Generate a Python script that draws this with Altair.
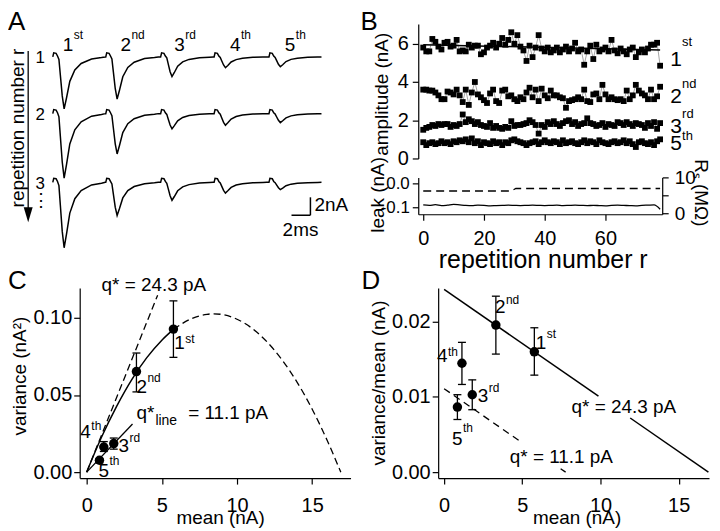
import altair as alt
import pandas as pd

FONT = "Liberation Sans"
K = "#000000"

# ---------------- Panel A : example traces ----------------
PULSE_T = [0.0, 5.6, 11.4, 17.05, 22.85]          # ms, pulse onsets
ROW_BASE = [0.0, -6.33, -14.0]                    # nA, vertical offset of each repetition
ROW_NAMES = ["1", "2", "3"]
AMPS = [[5.8, 4.7, 2.2, 1.2, 1.1],                # EPSC depth (nA) per repetition / pulse
        [7.2, 4.5, 1.7, 1.3, 1.0],
        [7.3, 3.7, 2.0, 1.2, 0.8]]
TPL_T = [0.0, 0.1, 0.35, 0.5, 0.65, 0.8, 1.0, 1.2, 1.45, 1.8, 2.33, 3.0, 4.1, 5.15, 5.55]
TPL_ART = [0.0, 0.45, 0.4, 0.1, 0.0, 0, 0, 0, 0, 0, 0, 0, 0, 0, 0]
TPL_SHAPE = [0, 0, 0, 0, 0.05, 0.35, 0.75, 1.0, 0.79, 0.47, 0.25, 0.126, 0.04, 0.013, 0.0]
COL_T = [1.05, 7.16, 12.84, 18.74, 24.53]
ORD_MAIN = ["1", "2", "3", "4", "5"]
ORD_SUP = ["st", "nd", "rd", "th", "th"]

# ---------------- Panel B : amplitudes vs repetition ----------------
REP = list(range(79))
AMP_1ST = [5.8, 5.6, 5.6, 6.25, 6.1, 5.85, 5.7, 6.05, 6.1, 5.85, 5.9, 6.2, 5.6, 5.65, 5.6, 5.95,
           5.8, 5.9, 5.9, 5.45, 5.55, 5.8, 5.9, 6.05, 5.8, 6.0, 6.3, 5.95, 6.2, 6.6, 6.0, 6.45,
           5.85, 5.65, 5.1, 5.9, 5.3, 5.8, 6.45, 5.75, 5.6, 5.8, 5.55, 5.65, 5.8, 5.55, 5.7, 5.85,
           5.6, 5.75, 6.05, 5.6, 5.7, 4.9, 5.6, 5.9, 5.2, 5.95, 5.6, 5.7, 5.8, 5.6, 6.2, 5.65,
           5.5, 5.75, 5.6, 5.45, 5.7, 5.8, 5.3, 5.55, 5.7, 5.55, 5.75, 5.95, 5.95, 6.05, 4.85]
AMP_2ND = [3.6, 3.6, 3.55, 3.55, 3.45, 3.3, 3.1, 3.1, 3.5, 3.45, 3.35, 3.6, 3.3, 2.95, 3.6, 2.8,
           3.45, 4.0, 3.35, 3.2, 3.05, 2.9, 3.4, 3.6, 3.0, 2.9, 3.55, 3.6, 3.25, 3.3, 3.1, 3.0,
           3.2, 3.1, 3.45, 3.7, 3.2, 3.6, 3.0, 3.65, 3.3, 3.15, 3.55, 3.3, 3.3, 3.2, 3.15, 2.65,
           3.0, 3.05, 3.1, 3.2, 3.1, 3.6, 3.0, 2.95, 3.35, 3.4, 3.1, 3.85, 3.35, 3.1, 3.2, 3.1,
           3.05, 3.1, 3.0, 3.55, 3.1, 3.3, 3.85, 3.55, 3.4, 3.3, 3.1, 3.6, 3.1, 3.25, 3.75]
AMP_3RD = [1.5, 1.6, 1.65, 1.75, 1.7, 1.8, 1.75, 1.8, 1.8, 1.65, 1.75, 1.7, 1.8, 2.3, 1.9, 2.05,
           1.95, 1.8, 1.9, 1.75, 1.7, 1.65, 1.85, 1.6, 1.7, 1.6, 1.55, 1.65, 1.6, 1.95, 1.7, 1.75,
           1.75, 1.8, 1.85, 2.0, 1.9, 1.75, 1.3, 1.75, 1.65, 1.9, 1.8, 1.95, 1.8, 1.7, 1.85, 1.95,
           2.0, 1.8, 1.9, 1.7, 1.8, 1.85, 2.1, 1.85, 1.8, 1.7, 1.75, 1.85, 1.65, 1.8, 1.75, 1.7,
           1.9, 1.85, 1.75, 1.9, 1.8, 1.7, 1.85, 1.8, 1.75, 1.6, 1.85, 1.7, 1.9, 1.55, 1.85]
AMP_5TH = [0.85, 0.7, 0.8, 0.85, 0.75, 0.8, 0.9, 0.8, 0.85, 0.75, 0.9, 0.85, 0.95, 0.9, 1.0, 0.85,
           1.05, 0.8, 0.9, 0.7, 0.85, 0.8, 0.75, 0.9, 0.8, 0.85, 0.7, 0.85, 0.8, 0.95, 1.0, 0.9,
           0.85, 0.8, 0.7, 0.8, 0.85, 0.9, 0.75, 0.85, 0.95, 0.85, 0.8, 0.9, 0.85, 0.75, 0.95, 0.8,
           0.85, 0.9, 0.8, 0.75, 0.85, 0.95, 0.8, 0.9, 0.85, 0.75, 0.95, 0.85, 0.8, 0.75, 0.85, 0.9,
           0.8, 0.85, 0.95, 0.8, 0.9, 0.75, 0.6, 0.85, 0.9, 0.8, 0.75, 0.85, 0.7, 0.9, 1.0]
FIT_R = [0, 78]
FIT_A = [5.95, 5.67]
B_LAB_MAIN = ["1", "2", "3", "5"]
B_LAB_SUP = ["st", "nd", "rd", "th"]
B_LAB_A = [4.84, 2.92, 1.35, 0.42]
B_SUP_A = [5.88, 3.70, 2.13, 0.94]
LEAK_R = list(range(0, 80, 2))
LEAK = [-0.090, -0.092, -0.089, -0.093, -0.091, -0.088, -0.090, -0.092, -0.093, -0.091,
        -0.092, -0.094, -0.093, -0.092, -0.091, -0.092, -0.093, -0.092, -0.091, -0.092,
        -0.093, -0.092, -0.091, -0.093, -0.092, -0.091, -0.092, -0.093, -0.092, -0.093,
        -0.094, -0.092, -0.091, -0.092, -0.093, -0.094, -0.092, -0.091, -0.090, -0.108]
RS_R = [0, 29, 30.5, 78]
RS = [6.2, 6.2, 6.9, 6.9]

# ---------------- Panels C / D : variance-mean ----------------
MEAN = [5.77, 3.31, 1.80, 1.14, 0.85]
VAR = [0.0927, 0.0652, 0.0185, 0.0163, 0.0077]
VAR_LO = [0.0744, 0.052, 0.0149, 0.0134, 0.0060]
VAR_HI = [0.111, 0.0772, 0.0221, 0.0198, 0.0088]
VM = [0.0160, 0.01956, 0.01029, 0.01448, 0.00865]
VM_LO = [0.0129, 0.0157, 0.0083, 0.01166, 0.0070]
VM_HI = [0.0192, 0.0234, 0.01227, 0.01726, 0.0103]
C_LAB_M = [5.83, 3.31, 2.12, -0.42, 0.79]
C_LAB_V = [0.080, 0.051, 0.0131, 0.0219, -0.003]
C_SUP_V = [0.0839, 0.0581, 0.0196, 0.0271, 0.0047]
D_LAB_M = [5.86, 3.25, 2.15, -0.45, 0.51]
D_LAB_V = [0.01638, 0.0212, 0.00931, 0.01461, 0.00358]
D_SUP_V = [0.01784, 0.02239, 0.01063, 0.0154, 0.0053]
C_TAN_M = [0, 4.72]
C_TAN_V = [0, 0.1147]
C_FIT_M = [0, 1, 2, 3, 4, 5, 5.77]
C_FIT_V = [0, 0.0229, 0.0428, 0.0600, 0.0742, 0.0855, 0.0925]
C_EXT_M = [5.77, 7, 8, 8.45, 9, 10, 11, 12, 13, 14, 15, 16, 16.9]
C_EXT_V = [0.0925, 0.0996, 0.1023, 0.1026, 0.1022, 0.0991, 0.0932, 0.0844, 0.0727, 0.0582, 0.0408, 0.0205, 0.0]
C_QL_M = [0, 3.05]
C_QL_V = [0, 0.0312]
C_ANN_TXT = ["q* = 24.3 pA", "q*", "line", "= 11.1 pA"]
C_ANN_M = [0.99, 3.31, 4.57, 6.75]
C_ANN_V = [0.1174, 0.0346, 0.0303, 0.0346]
C_ANN_FS = [19, 19, 14, 19]
D_SOL_M = [0, 9.87, 11.9, 16.9]
D_SOL_V = [0.0243, 0.0101, 0.0072, 0.0]
D_DASH_M = [0, 5.0, 7.45, 7.77]
D_DASH_V = [0.0111, 0.0039, 0.00046, 0.0]
SEG = [0, 0, 1, 1]
D_ANN_TXT = ["q* = 24.3 pA", "q* = 11.1 pA"]
D_ANN_M = [8.15, 4.2]
D_ANN_V = [0.00786, 0.00123]


def letter(ch, x, y):
    return alt.Chart(pd.DataFrame({"l": [ch]})).mark_text(
        align="left", baseline="top", fontSize=26, font=FONT, color=K
    ).encode(x=alt.value(x), y=alt.value(y), text="l:N")


def ordinal_layers(df, X, Y, xf, yf, syf, fs, sfs, dx):
    main = alt.Chart(df).mark_text(align="left", baseline="alphabetic", fontSize=fs, font=FONT, color=K).encode(
        x=X(xf), y=Y(yf), text="main:N")
    sup = alt.Chart(df).mark_text(align="left", baseline="alphabetic", fontSize=sfs, font=FONT, color=K,
                                  dx=dx).encode(x=X(xf), y=Y(syf), text="sup:N")
    return [main, sup]


# ================= Panel A =================
def XA(f="t"):
    return alt.X(f + ":Q", scale=alt.Scale(domain=[-3.47, 29.05], nice=False, zero=False), axis=None)


def YA(f="v"):
    return alt.Y(f + ":Q", scale=alt.Scale(domain=[-22.56, 3.67], nice=False, zero=False), axis=None)


rows = []
for i, base in enumerate(ROW_BASE):
    n = 0
    for j, t0 in enumerate(PULSE_T):
        for k in range(len(TPL_T)):
            rows.append({"row": i, "i": n, "t": t0 + TPL_T[k],
                         "v": base + TPL_ART[k] - AMPS[i][j] * TPL_SHAPE[k]})
            n += 1
traces = pd.DataFrame(rows)

a_trace = alt.Chart(traces).mark_line(color=K, strokeWidth=1.5).encode(
    x=XA(), y=YA(), detail="row:N", order="i:Q")
a_cols = ordinal_layers(pd.DataFrame({"t": COL_T, "v": [0.67] * 5, "sv": [2.0] * 5,
                                      "main": ORD_MAIN, "sup": ORD_SUP}),
                        XA, YA, "t", "v", "sv", 19, 12, 11)
a_rowlab = alt.Chart(pd.DataFrame({"t": [-0.84] * 3, "v": [b - 0.15 for b in ROW_BASE], "s": ROW_NAMES})).mark_text(
    align="right", baseline="middle", fontSize=17, font=FONT, color=K).encode(x=XA(), y=YA(), text="s:N")
a_dots = alt.Chart(pd.DataFrame({"t": [-1.26], "v": [-16.1], "s": ["⋮"]})).mark_text(
    align="center", baseline="middle", fontSize=18, color=K).encode(x=XA(), y=YA(), text="s:N")
a_arrow = alt.Chart(pd.DataFrame({"t": [-2.6], "v": [0.67], "v2": [-17.1]})).mark_rule(
    color=K, strokeWidth=1.3).encode(x=XA(), y=YA(), y2=alt.Y2("v2:Q"))
a_head = alt.Chart(pd.DataFrame({"t": [-2.6], "v": [-17.61]})).mark_point(
    shape="M-0.6,-1L0.6,-1L0,1Z", size=225, filled=True, color=K, opacity=1, strokeWidth=0).encode(x=XA(), y=YA())
a_ylab = alt.Chart(pd.DataFrame({"t": [-3.63], "v": [-7.94], "s": ["repetition number r"]})).mark_text(
    angle=270, align="center", baseline="middle", fontSize=19, font=FONT, color=K).encode(x=XA(), y=YA(), text="s:N")
a_bar = alt.Chart(pd.DataFrame({"t": [27.23, 25.23], "t2": [27.23, 27.23],
                                "v": [-17.67, -17.67], "v2": [-15.67, -17.67]})).mark_rule(
    color=K, strokeWidth=1.5).encode(x=XA(), x2=alt.X2("t2:Q"), y=YA(), y2=alt.Y2("v2:Q"))
a_barlab1 = alt.Chart(pd.DataFrame({"t": [27.65], "v": [-16.56], "s": ["2nA"]})).mark_text(
    align="left", baseline="middle", fontSize=19, font=FONT, color=K).encode(x=XA(), y=YA(), text="s:N")
a_barlab2 = alt.Chart(pd.DataFrame({"t": [26.18], "v": [-19.33], "s": ["2ms"]})).mark_text(
    align="center", baseline="middle", fontSize=19, font=FONT, color=K).encode(x=XA(), y=YA(), text="s:N")

panel_a = alt.layer(a_trace, *a_cols, a_rowlab, a_dots, a_arrow, a_head, a_ylab, a_bar,
                    a_barlab1, a_barlab2, letter("A", -12, -15)).properties(width=309, height=236)

# ================= Panel B =================
RDOM = [-1.64, 78.69]


def XB(f="r"):
    return alt.X(f + ":Q", scale=alt.Scale(domain=RDOM, nice=False, zero=False), axis=None)


AX_B_Y = alt.Axis(values=[0, 2, 4, 6], title="amplitude (nA)", titleX=-31, titleY=70, titleAngle=270,
                  titleBaseline="alphabetic", labelPadding=4, labelFontSize=20)


def YB(f="amp"):
    return alt.Y(f + ":Q", scale=alt.Scale(domain=[0, 7.03], nice=False, zero=False), axis=AX_B_Y)


series = []
for name, arr in [("1st", AMP_1ST), ("2nd", AMP_2ND), ("3rd", AMP_3RD), ("5th", AMP_5TH)]:
    for r, a in zip(REP, arr):
        series.append({"s": name, "r": r, "amp": a})
bdf = pd.DataFrame(series)

b_lines = alt.Chart(bdf).mark_line(color="#a5a5a5", strokeWidth=1).encode(x=XB(), y=YB(), detail="s:N")
b_pts = alt.Chart(bdf).mark_square(color=K, size=34, opacity=1).encode(x=XB(), y=YB())
b_fit = alt.Chart(pd.DataFrame({"r": FIT_R, "amp": FIT_A})).mark_line(color=K, strokeWidth=1.5).encode(
    x=XB(), y=YB())
b_labs = ordinal_layers(pd.DataFrame({"r": [81.3] * 4, "amp": B_LAB_A, "sa": B_SUP_A,
                                      "main": B_LAB_MAIN, "sup": B_LAB_SUP}),
                        XB, YB, "r", "amp", "sa", 21, 13, 12)
panel_b_top = alt.layer(b_lines, b_pts, b_fit, *b_labs, letter("B", -58, -15)).properties(width=245, height=135)

AX_B_X = alt.Axis(values=[0, 20, 40, 60], title="repetition number r", titleX=125, titleY=53,
                  titleBaseline="alphabetic", titleFontSize=25, labelPadding=8, labelFontSize=20)


def XB2(f="r"):
    return alt.X(f + ":Q", scale=alt.Scale(domain=RDOM, nice=False, zero=False), axis=AX_B_X)


b_leak = alt.Chart(pd.DataFrame({"r": LEAK_R, "leak": LEAK})).mark_line(color=K, strokeWidth=1.3,
                                                                          interpolate="monotone").encode(
    x=XB2(),
    y=alt.Y("leak:Q", scale=alt.Scale(domain=[-0.129, 0.025], nice=False, zero=False),
            axis=alt.Axis(values=[0, -0.1], labelExpr="replace(format(datum.value, '.1f'), '\u2212', '-')",
                          title="leak (nA)", titleX=-35, titleY=17, titleAngle=270, titleBaseline="alphabetic",
                          labelPadding=3, labelFontSize=17)))
b_rs = alt.Chart(pd.DataFrame({"r": RS_R, "rs": RS})).mark_line(color=K, strokeWidth=1.3,
                                                                 strokeDash=[8, 5]).encode(
    x=XB2(),
    y=alt.Y("rs:Q", scale=alt.Scale(domain=[-0.28, 10], nice=False, zero=False),
            axis=alt.Axis(orient="right", values=[0, 5, 10], title="R\u209b (M\u03a9)", titleX=32, titleY=15,
                          titleAngle=90, titleBaseline="alphabetic", labelPadding=6, labelFontSize=19)))
panel_b_bot = alt.layer(b_leak, b_rs).resolve_scale(y="independent").properties(width=245, height=37)

panel_b = alt.vconcat(panel_b_top, panel_b_bot, spacing=19, bounds="flush")

# ================= Panel C =================
AX_C_X = alt.Axis(values=[0, 5, 10, 15], title="mean (nA)", titleX=141, titleY=46,
                  titleBaseline="alphabetic", labelPadding=12, labelFontSize=20)
AX_C_Y = alt.Axis(values=[0, 0.05, 0.1], format=".2f", title="variance (nA\u00b2)", titleX=-54, titleY=88,
                  titleAngle=270, titleBaseline="alphabetic", labelPadding=2, labelFontSize=20)


def XC(f="m"):
    return alt.X(f + ":Q", scale=alt.Scale(domain=[-0.464, 17.55], nice=False, zero=False), axis=AX_C_X)


def YC(f="vv"):
    return alt.Y(f + ":Q", scale=alt.Scale(domain=[-0.00387, 0.1194], nice=False, zero=False), axis=AX_C_Y)


cpts = pd.DataFrame({"m": MEAN, "vv": VAR, "lo": VAR_LO, "hi": VAR_HI})
c_tan = alt.Chart(pd.DataFrame({"m": C_TAN_M, "vv": C_TAN_V})).mark_line(
    color=K, strokeWidth=1.3, strokeDash=[7, 4]).encode(x=XC(), y=YC())
c_fit = alt.Chart(pd.DataFrame({"m": C_FIT_M, "vv": C_FIT_V})).mark_line(
    color=K, strokeWidth=1.5, interpolate="monotone").encode(x=XC(), y=YC())
c_ext = alt.Chart(pd.DataFrame({"m": C_EXT_M, "vv": C_EXT_V})).mark_line(
    color=K, strokeWidth=1.3, strokeDash=[7, 4], interpolate="monotone").encode(x=XC(), y=YC())
c_ql = alt.Chart(pd.DataFrame({"m": C_QL_M, "vv": C_QL_V})).mark_line(
    color=K, strokeWidth=1.3).encode(x=XC(), y=YC())
c_err = alt.Chart(cpts).mark_rule(color=K, strokeWidth=1.3).encode(x=XC(), y=YC("lo"), y2=alt.Y2("hi:Q"))
c_cap1 = alt.Chart(cpts).mark_tick(orient="horizontal", size=8, thickness=1.3, color=K, opacity=1).encode(
    x=XC(), y=YC("lo"))
c_cap2 = alt.Chart(cpts).mark_tick(orient="horizontal", size=8, thickness=1.3, color=K, opacity=1).encode(
    x=XC(), y=YC("hi"))
c_pts = alt.Chart(cpts).mark_circle(color=K, size=90, opacity=1).encode(x=XC(), y=YC())
c_labs = ordinal_layers(pd.DataFrame({"m": C_LAB_M, "vv": C_LAB_V, "sv": C_SUP_V,
                                      "main": ORD_MAIN, "sup": ORD_SUP}),
                        XC, YC, "m", "vv", "sv", 19, 12, 11)
c_ann = alt.Chart(pd.DataFrame({"m": C_ANN_M, "vv": C_ANN_V, "s": C_ANN_TXT, "fs": C_ANN_FS})).mark_text(
    align="left", baseline="alphabetic", font=FONT, color=K).encode(
    x=XC(), y=YC(), text="s:N", size=alt.Size("fs:Q", scale=None, legend=None))
panel_c = alt.layer(c_tan, c_fit, c_ext, c_ql, c_err, c_cap1, c_cap2, c_pts, *c_labs, c_ann,
                    letter("C", -72, -20)).properties(width=272, height=191)

# ================= Panel D =================
AX_D_X = alt.Axis(values=[0, 5, 10, 15], title="mean (nA)", titleX=139, titleY=46,
                  titleBaseline="alphabetic", labelPadding=12, labelFontSize=20)
AX_D_Y = alt.Axis(values=[0, 0.01, 0.02], format=".2f", title="variance/mean (nA)", titleX=-54, titleY=95,
                  titleAngle=270, titleBaseline="alphabetic", labelPadding=2, labelFontSize=20)


def XD(f="m"):
    return alt.X(f + ":Q", scale=alt.Scale(domain=[-0.38, 16.94], nice=False, zero=False), axis=AX_D_X)


def YD(f="vm"):
    return alt.Y(f + ":Q", scale=alt.Scale(domain=[-0.000795, 0.0245], nice=False, zero=False), axis=AX_D_Y)


dpts = pd.DataFrame({"m": MEAN, "vm": VM, "lo": VM_LO, "hi": VM_HI})
d_sol = alt.Chart(pd.DataFrame({"m": D_SOL_M, "vm": D_SOL_V, "seg": SEG})).mark_line(
    color=K, strokeWidth=1.5).encode(x=XD(), y=YD(), detail="seg:N")
d_dash = alt.Chart(pd.DataFrame({"m": D_DASH_M, "vm": D_DASH_V, "seg": SEG})).mark_line(
    color=K, strokeWidth=1.3, strokeDash=[7, 5]).encode(x=XD(), y=YD(), detail="seg:N")
d_err = alt.Chart(dpts).mark_rule(color=K, strokeWidth=1.3).encode(x=XD(), y=YD("lo"), y2=alt.Y2("hi:Q"))
d_cap1 = alt.Chart(dpts).mark_tick(orient="horizontal", size=8, thickness=1.3, color=K, opacity=1).encode(
    x=XD(), y=YD("lo"))
d_cap2 = alt.Chart(dpts).mark_tick(orient="horizontal", size=8, thickness=1.3, color=K, opacity=1).encode(
    x=XD(), y=YD("hi"))
d_pts = alt.Chart(dpts).mark_circle(color=K, size=90, opacity=1).encode(x=XD(), y=YD())
d_labs = ordinal_layers(pd.DataFrame({"m": D_LAB_M, "vm": D_LAB_V, "sv": D_SUP_V,
                                      "main": ORD_MAIN, "sup": ORD_SUP}),
                        XD, YD, "m", "vm", "sv", 19, 12, 11)
d_ann = alt.Chart(pd.DataFrame({"m": D_ANN_M, "vm": D_ANN_V, "s": D_ANN_TXT})).mark_text(
    align="left", baseline="alphabetic", fontSize=19, font=FONT, color=K).encode(x=XD(), y=YD(), text="s:N")
panel_d = alt.layer(d_sol, d_dash, d_err, d_cap1, d_cap2, d_pts, *d_labs, d_ann,
                    letter("D", -77, -20)).properties(width=272, height=191)


def spacer(w):
    return alt.Chart(pd.DataFrame({"z": [0]})).mark_point(opacity=0).encode(
        x=alt.X("z:Q", axis=None), y=alt.Y("z:Q", axis=None)).properties(width=w, height=5)


row1 = alt.hconcat(panel_a, panel_b, spacing=91, bounds="flush")
row2 = alt.hconcat(spacer(60), panel_c, spacer(88), panel_d, spacing=0, bounds="flush")

chart = alt.vconcat(row1, row2, spacing=-4).properties(
    padding=0, background="white"
).configure(font=FONT).configure_view(stroke=None).configure_axis(
    domainColor=K, tickColor=K, labelColor=K, titleColor=K, grid=False,
    labelFont=FONT, titleFont=FONT, labelFontSize=20, titleFontSize=19, titleFontWeight="normal",
    tickSize=6, domainWidth=1.2, tickWidth=1.2
)

chart.save("out.html", embed_options={"renderer": "svg", "actions": False})
